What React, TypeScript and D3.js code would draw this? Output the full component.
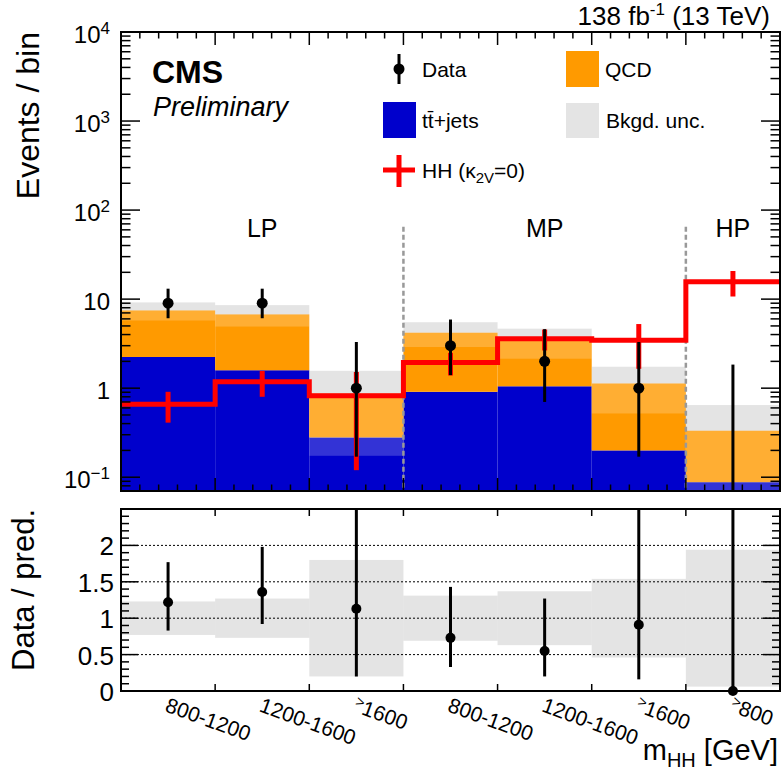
import React from "react";
import * as d3 from "d3";

// bins: LP (3), MP (3), HP (1)
const binLabels = ["800-1200", "1200-1600", ">1600", "800-1200", "1200-1600", ">1600", ">800"];
const regionLabels = ["LP", "MP", "HP"];
const regionBins = [3, 3, 1];

// stacked backgrounds (events / bin)
const ttbar = [2.24, 1.59, 0.28, 0.91, 1.05, 0.2, 0.088];
const qcd = [5.23, 5.15, 0.59, 3.29, 2.35, 0.93, 0.245];
// relative background uncertainty
const bkgUnc = [0.23, 0.27, 0.8, 0.31, 0.37, 0.54, 0.94];

// observed data with asymmetric errors
const data = [9, 9, 1, 3, 2, 1, 0];
const dataErrUp = [4.1, 4.1, 2.3, 2.9, 2.6, 2.3, 1.84];
const dataErrDn = [2.9, 2.9, 0.83, 1.6, 1.3, 0.83, 0];

// HH (k2V = 0) signal
const hh = [0.66, 1.18, 0.82, 1.94, 3.6, 3.45, 15.7];
const hhErr = [0.25, 0.38, 0.7, 0.55, 0.95, 1.8, 5.0];

// ratio panel
const ratio = [1.22, 1.36, 1.13, 0.73, 0.55, 0.91, 0];
const ratioErrUp = [0.55, 0.62, 2.64, 0.7, 0.72, 2.09, 5.5];
const ratioErrDn = [0.39, 0.44, 0.93, 0.4, 0.35, 0.75, 0];

const topTicks = [0.1, 1, 10, 100, 1000, 10000];
const ratioTicks = [0, 0.5, 1, 1.5, 2];

const W = 782, H = 778;
const L = 121, R = 780;
const T1 = 32, B1 = 491, T2 = 509, B2 = 691;
const font = "'Liberation Sans', Arial, Helvetica, sans-serif";
const BLUE = "#0000cc";
const ORANGE = "#ff9a00";
const RED = "#ff0000";
// uncertainty band: grey over empty space, a light wash over the stack
const UNC_FILL = "#b8b8b8";
const UNC_OPACITY = 0.38;
const UNC_OVER_STACK = 0.2;

function expLabel(v: number) {
  if (v === 1) return { base: "1", exp: "" };
  if (v === 10) return { base: "10", exp: "" };
  return { base: "10", exp: String(Math.round(Math.log10(v))) };
}

export default function App() {
  const n = binLabels.length;
  const x = d3.scaleLinear().domain([0, n]).range([L, R]);
  const y = d3.scaleLog().domain([0.07, 1e4]).range([B1, T1]);
  const yr = d3.scaleLinear().domain([0, 2.5]).range([B2, T2]);
  const bw = x(1) - x(0);

  const total = ttbar.map((t, i) => t + qcd[i]);
  const yMin = y.domain()[0];

  const stepPts: [number, number][] = hh.map((v, i) => [i, v] as [number, number]);
  stepPts.push([n, hh[n - 1]]);
  const hhPath = d3
    .line<[number, number]>()
    .x((d) => x(d[0]))
    .y((d) => y(d[1]))
    .curve(d3.curveStepAfter)(stepPts) as string;

  // log minor ticks
  const minorLog: number[] = [];
  for (let e = -2; e <= 3; e++)
    for (let k = 2; k <= 9; k++) {
      const v = k * Math.pow(10, e);
      if (v >= yMin && v <= 1e4) minorLog.push(v);
    }
  const ratioMinor = d3.range(0, 26).map((i) => i / 10).filter((v) => Math.round(v * 10) % 5 !== 0);

  // x minor ticks in top panel: 5 per bin
  const xMinor = d3.range(0, n * 5 + 1).map((i) => i / 5).filter((v) => Math.abs(v - Math.round(v)) > 1e-6);
  const xMajor = d3.range(1, n);

  // region dividers
  let acc = 0;
  const regions = regionLabels.map((lab, i) => {
    const start = acc;
    acc += regionBins[i];
    return { lab, start, end: acc };
  });

  return (
    <div style={{ position: "absolute", left: 0, top: 0 }}>
      <svg width={W} height={H} fontFamily={font} style={{ display: "block" }}>
        <defs>
          <clipPath id="clipTop">
            <rect x={L} y={T1} width={R - L} height={B1 - T1} />
          </clipPath>
          <clipPath id="clipRat">
            <rect x={L} y={T2} width={R - L} height={B2 - T2} />
          </clipPath>
        </defs>
        <rect width={W} height={H} fill="#fff" />

        {/* ---------- top panel ---------- */}
        <g clipPath="url(#clipTop)">
          {ttbar.map((t, i) => (
            <rect key={"tt" + i} x={x(i)} y={y(t)} width={bw} height={B1 - y(t)} fill={BLUE} />
          ))}
          {qcd.map((q, i) => (
            <rect key={"qcd" + i} x={x(i)} y={y(total[i])} width={bw} height={y(ttbar[i]) - y(total[i])} fill={ORANGE} />
          ))}
          {total.map((t, i) => {
            const hi = t * (1 + bkgUnc[i]);
            const lo = Math.max(t * (1 - bkgUnc[i]), yMin * 0.5);
            return (
              <g key={"unc" + i}>
                <rect x={x(i)} y={y(hi)} width={bw} height={y(t) - y(hi)} fill={UNC_FILL} fillOpacity={UNC_OPACITY} />
                <rect x={x(i)} y={y(t)} width={bw} height={y(lo) - y(t)} fill="#fff" fillOpacity={UNC_OVER_STACK} />
              </g>
            );
          })}
          {regions.slice(1).map((r) => (
            <line key={"div" + r.lab} x1={x(r.start)} x2={x(r.start)} y1={y(65)} y2={B1} stroke="#999" strokeWidth={2.5} strokeDasharray="5,3" />
          ))}
          <path d={hhPath} fill="none" stroke={RED} strokeWidth={5} />
          {hh.map((v, i) => (
            <line key={"hhe" + i} x1={x(i + 0.5)} x2={x(i + 0.5)} y1={y(v + hhErr[i])} y2={y(Math.max(v - hhErr[i], yMin * 0.5))} stroke={RED} strokeWidth={5} />
          ))}
          {data.map((d, i) => {
            const hi = d + dataErrUp[i];
            const lo = Math.max(d - dataErrDn[i], yMin * 0.5);
            return (
              <g key={"d" + i}>
                <line x1={x(i + 0.5)} x2={x(i + 0.5)} y1={y(hi)} y2={y(lo)} stroke="#000" strokeWidth={3} />
                {d > 0 && <circle cx={x(i + 0.5)} cy={y(d)} r={5.5} fill="#000" />}
              </g>
            );
          })}
        </g>

        {/* region labels */}
        {regions.map((r) => (
          <text key={r.lab} x={x((r.start + r.end) / 2)} y={y(50)} textAnchor="middle" fontSize={25}>
            {r.lab}
          </text>
        ))}

        {/* top axes ticks */}
        <g stroke="#000" strokeWidth={1.5}>
          {xMajor.map((v) => (
            <g key={"xm" + v}>
              <line x1={x(v)} x2={x(v)} y1={B1} y2={B1 - 13} />
              <line x1={x(v)} x2={x(v)} y1={T1} y2={T1 + 13} />
            </g>
          ))}
          {xMinor.map((v) => (
            <g key={"xn" + v}>
              <line x1={x(v)} x2={x(v)} y1={B1} y2={B1 - 6.5} />
              <line x1={x(v)} x2={x(v)} y1={T1} y2={T1 + 6.5} />
            </g>
          ))}
          {topTicks.map((v) => (
            <g key={"ym" + v}>
              <line x1={L} x2={L + 19} y1={y(v)} y2={y(v)} />
              <line x1={R} x2={R - 19} y1={y(v)} y2={y(v)} />
            </g>
          ))}
          {minorLog.map((v) => (
            <g key={"yn" + v}>
              <line x1={L} x2={L + 9.5} y1={y(v)} y2={y(v)} />
              <line x1={R} x2={R - 9.5} y1={y(v)} y2={y(v)} />
            </g>
          ))}
        </g>
        <rect x={L} y={T1} width={R - L} height={B1 - T1} fill="none" stroke="#000" strokeWidth={2} />

        {topTicks.map((v) => {
          const lab = expLabel(v);
          return (
            <text key={"yl" + v} x={110} y={y(v) + 11} textAnchor="end" fontSize={24}>
              {lab.base}
              {lab.exp && (
                <tspan dy={-9} fontSize={17}>
                  {lab.exp === "-1" ? "\u22121" : lab.exp}
                </tspan>
              )}
            </text>
          );
        })}

        <text transform={`translate(39,${T1}) rotate(-90)`} textAnchor="end" fontSize={32}>
          Events / bin
        </text>
        <text x={770} y={25} textAnchor="end" fontSize={26}>
          138 fb<tspan dy={-10} fontSize={17}>-1</tspan>
          <tspan dy={10}> (13 TeV)</tspan>
        </text>
        <text x={152} y={83} fontSize={32} fontWeight="bold">
          CMS
        </text>
        <text x={153} y={116} fontSize={27} fontStyle="italic">
          Preliminary
        </text>

        {/* legend */}
        <g fontSize={21}>
          <line x1={399} x2={399} y1={54} y2={84} stroke="#000" strokeWidth={3} />
          <circle cx={399} cy={69} r={5.5} fill="#000" />
          <text x={422} y={77}>Data</text>

          <rect x={566} y={51} width={33} height={36} fill={ORANGE} />
          <text x={605} y={77}>QCD</text>

          <rect x={383} y={102} width={33} height={36} fill={BLUE} />
          <text x={422} y={128}>t{"t\u0304"}+jets</text>

          <rect x={566} y={103} width={33} height={35} fill={UNC_FILL} fillOpacity={UNC_OPACITY} />
          <text x={606} y={128}>Bkgd. unc.</text>

          <line x1={383} x2={415} y1={170} y2={170} stroke={RED} strokeWidth={5} />
          <line x1={399} x2={399} y1={155} y2={187} stroke={RED} strokeWidth={5} />
          <text x={422} y={178}>
            HH (κ<tspan fontSize={15} dy={5}>2V</tspan>
            <tspan dy={-5}>=0)</tspan>
          </text>
        </g>

        {/* ---------- ratio panel ---------- */}
        <g clipPath="url(#clipRat)">
          {bkgUnc.map((u, i) => (
            <rect key={"ru" + i} x={x(i)} y={yr(1 + u)} width={bw} height={yr(Math.max(1 - u, -0.1)) - yr(1 + u)} fill={UNC_FILL} fillOpacity={UNC_OPACITY} />
          ))}
          {ratioTicks.slice(1).map((v) => (
            <line key={"g" + v} x1={L} x2={R} y1={yr(v)} y2={yr(v)} stroke="#000" strokeWidth={1} strokeDasharray="2,2" />
          ))}
          {ratio.map((r, i) => (
            <line key={"re" + i} x1={x(i + 0.5)} x2={x(i + 0.5)} y1={yr(r + ratioErrUp[i])} y2={yr(r - ratioErrDn[i])} stroke="#000" strokeWidth={3} />
          ))}
        </g>
        {ratio.map((r, i) => (
          <circle key={"rp" + i} cx={x(i + 0.5)} cy={yr(r)} r={5} fill="#000" />
        ))}

        <g stroke="#000" strokeWidth={1.5}>
          {xMajor.map((v) => (
            <g key={"rxm" + v}>
              <line x1={x(v)} x2={x(v)} y1={B2} y2={B2 - 7} />
              <line x1={x(v)} x2={x(v)} y1={T2} y2={T2 + 7} />
            </g>
          ))}
          {ratioTicks.map((v) => (
            <g key={"rym" + v}>
              <line x1={L} x2={L + 17} y1={yr(v)} y2={yr(v)} />
              <line x1={R} x2={R - 17} y1={yr(v)} y2={yr(v)} />
            </g>
          ))}
          {ratioMinor.map((v) => (
            <g key={"ryn" + v}>
              <line x1={L} x2={L + 8} y1={yr(v)} y2={yr(v)} />
              <line x1={R} x2={R - 8} y1={yr(v)} y2={yr(v)} />
            </g>
          ))}
        </g>
        <rect x={L} y={T2} width={R - L} height={B2 - T2} fill="none" stroke="#000" strokeWidth={2} />

        {ratioTicks.map((v) => (
          <text key={"rl" + v} x={114} y={yr(v) + 10} textAnchor="end" fontSize={26}>
            {String(v)}
          </text>
        ))}
        <text transform={`translate(34,${T2}) rotate(-90)`} textAnchor="end" fontSize={31}>
          Data / pred.
        </text>

        {/* bin labels */}
        {binLabels.map((lab, i) => (
          <text key={"bl" + i} transform={`translate(${x(i + 0.5) - 4},711) rotate(20)`} fontSize={21}>
            {lab.startsWith(">") ? (
              <>
                <tspan fontSize={15} dy={-6}>
                  {">"}
                </tspan>
                <tspan dy={6}>{lab.slice(1)}</tspan>
              </>
            ) : (
              lab
            )}
          </text>
        ))}
        <text x={778} y={760} textAnchor="end" fontSize={29}>
          m<tspan fontSize={20} dy={7}>HH</tspan>
          <tspan dy={-7}> [GeV]</tspan>
        </text>
      </svg>
    </div>
  );
}
